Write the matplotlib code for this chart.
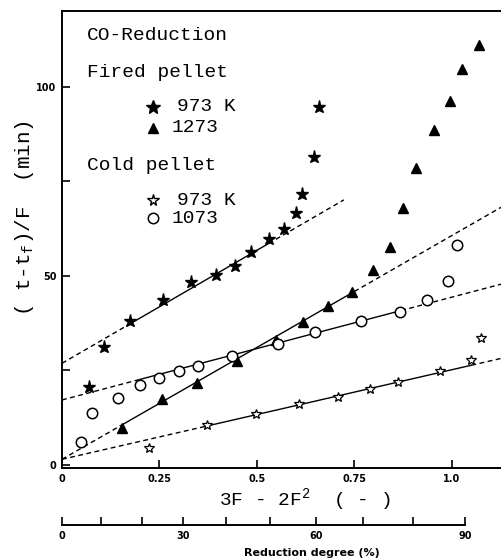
import numpy as np
import matplotlib.pyplot as plt

# Fired pellet, 973 K (filled stars)
fired973_x = [0.070, 0.108, 0.174, 0.260, 0.331, 0.395, 0.444, 0.486, 0.532, 0.570, 0.599, 0.616, 0.647, 0.659]
fired973_y = [20.6, 31.3, 38.2, 43.7, 48.3, 50.3, 52.7, 56.4, 59.7, 62.5, 66.6, 71.6, 81.4, 94.7]

# Fired pellet, 1273 K (filled triangles)
fired1273_x = [0.153, 0.256, 0.345, 0.450, 0.549, 0.617, 0.681, 0.743, 0.798, 0.841, 0.875, 0.908, 0.953, 0.996, 1.027, 1.070]
fired1273_y = [9.9, 17.4, 21.6, 27.6, 33.1, 37.8, 42.1, 45.8, 51.6, 57.7, 68.1, 78.5, 88.6, 96.2, 104.7, 111.1]

# Cold pellet, 973 K (open stars)
cold973_x = [0.224, 0.371, 0.497, 0.608, 0.707, 0.790, 0.861, 0.969, 1.048, 1.074]
cold973_y = [4.6, 10.6, 13.4, 16.1, 18.1, 20.1, 21.9, 24.9, 27.8, 33.7]

# Cold pellet, 1073 K (open circles)
cold1073_x = [0.050, 0.076, 0.144, 0.200, 0.250, 0.301, 0.350, 0.435, 0.553, 0.650, 0.768, 0.867, 0.935, 0.991, 1.012]
cold1073_y = [6.2, 13.7, 17.8, 21.2, 23.1, 24.9, 26.3, 28.8, 31.9, 35.3, 38.2, 40.4, 43.7, 48.8, 58.2]

# straight-line fits: intercept, slope, solid range, dashed end
fit_fired973 = (26.9, 59.8, 0.17, 0.53, 0.723)
fit_fired1273 = (1.5, 59.2, 0.15, 0.75, 1.126)
fit_cold973 = (1.5, 23.7, 0.37, 1.05, 1.126)
fit_cold1073 = (17.2, 27.2, 0.20, 0.87, 1.126)

# secondary axis: reduction degree (%)
red_ticks = [0, 10, 20, 30, 40, 50, 60, 70, 80, 90]
red_labels = ["0", "", "", "30", "", "", "60", "", "", "90"]

MONO = "Liberation Mono"


def red_to_x(r):
    f = 1 - (1 - np.asarray(r) / 100.0) ** (1 / 3)
    return 3 * f - 2 * f ** 2


def draw_fit(ax, fit):
    a, b, s0, s1, xe = fit
    dash = dict(color="black", lw=1.0, ls=(0, (3.5, 2.5)))
    xs = np.array([0, s0])
    ax.plot(xs, a + b * xs, **dash)
    xs = np.array([s0, s1])
    ax.plot(xs, a + b * xs, color="black", lw=1.0)
    xs = np.array([s1, xe])
    ax.plot(xs, a + b * xs, **dash)


fig = plt.figure(figsize=(5.01, 5.6), dpi=100)
ax = fig.add_axes([62 / 501, 1 - 468 / 560, 439 / 501, 457 / 560])

for fit in (fit_fired973, fit_fired1273, fit_cold973, fit_cold1073):
    draw_fit(ax, fit)

ax.plot(fired973_x, fired973_y, ls="none", marker="*", ms=9.5, color="black", zorder=3)
ax.plot(fired1273_x, fired1273_y, ls="none", marker="^", ms=7.5, color="black", zorder=3)
ax.plot(cold973_x, cold973_y, ls="none", marker="*", ms=7.5, mfc="white", mec="black", mew=0.9, zorder=3)
ax.plot(cold1073_x, cold1073_y, ls="none", marker="o", ms=7.5, mfc="white", mec="black", mew=1.1, zorder=3)

ax.set_xlim(0, 1.126)
ax.set_ylim(-0.8, 120.1)
ax.spines["right"].set_visible(False)
for s in ("left", "top", "bottom"):
    ax.spines[s].set_linewidth(1.4)

ax.set_xticks([0, 0.25, 0.5, 0.75, 1.0])
ax.set_xticklabels(["0", "0.25", "0.5", "0.75", "1.0"], fontsize=7, fontweight="bold")
ax.set_yticks([0, 25, 50, 75, 100])
ax.set_yticklabels(["0", "", "50", "", "100"], fontsize=7, fontweight="bold")
ax.tick_params(direction="in", length=6, width=1.2, pad=4)

# axis titles placed by figure pixels
fig.text(305 / 501, 1 - 500 / 560, "3F - 2F$^{\\mathregular{2}}$  ( - )", family=MONO, fontsize=14,
         ha="center", va="center")
fig.text(25 / 501, 1 - 218 / 560, "( t-t$_{\\mathregular{f}}$)/F  (min)", family=MONO, fontsize=15,
         ha="center", va="center", rotation=90)

# legend block written as text
tx = dict(transform=ax.transAxes, family=MONO, fontsize=14, va="center")
ax.text(0.057, 0.947, "CO-Reduction", **tx)
ax.text(0.057, 0.866, "Fired pellet", **tx)
ax.text(0.262, 0.790, "973 K", **tx)
ax.text(0.250, 0.744, "1273", **tx)
ax.text(0.057, 0.663, "Cold pellet", **tx)
ax.text(0.262, 0.586, "973 K", **tx)
ax.text(0.250, 0.547, "1073", **tx)
ax.plot([0.207], [0.790], transform=ax.transAxes, marker="*", ms=10, color="black", ls="none")
ax.plot([0.207], [0.744], transform=ax.transAxes, marker="^", ms=7.5, color="black", ls="none")
ax.plot([0.207], [0.586], transform=ax.transAxes, marker="*", ms=8.5, mfc="white", mec="black", ls="none")
ax.plot([0.207], [0.547], transform=ax.transAxes, marker="o", ms=7.5, mfc="white", mec="black", mew=1.1, ls="none")

# secondary scale: reduction degree
ax2 = fig.add_axes([62 / 501, 1 - 525 / 560, 439 / 501, 0.0001])
ax2.set_xlim(0, 1.126)
ax2.set_yticks([])
for s in ("left", "right", "top"):
    ax2.spines[s].set_visible(False)
ax2.spines["bottom"].set_linewidth(1.4)
ax2.spines["bottom"].set_bounds(0, red_to_x(90))
ax2.set_xticks(red_to_x(red_ticks))
ax2.set_xticklabels(red_labels, fontsize=7, fontweight="bold")
ax2.tick_params(direction="in", length=6, width=1.2, pad=4)
fig.text(312 / 501, 1 - 553 / 560, "Reduction degree (%)", fontsize=8, fontweight="bold",
         ha="center", va="center")

fig.savefig("out.png", dpi=100)
